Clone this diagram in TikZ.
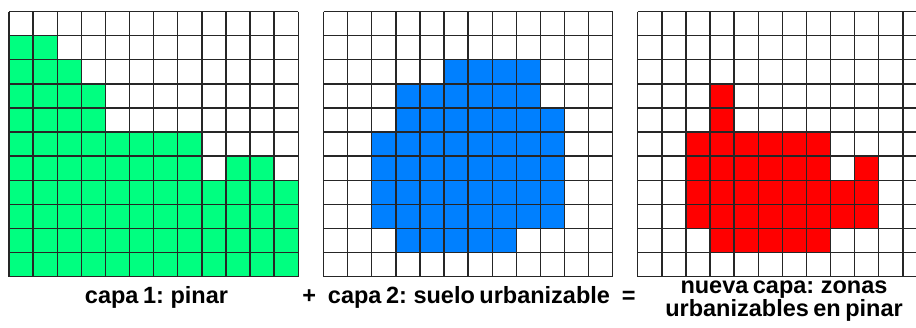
\documentclass[tikz,border=0pt]{standalone}
\usepackage{fontspec}
\setmainfont{Liberation Sans}
\definecolor{pinargreen}{HTML}{00FF80}
\definecolor{urbanblue}{HTML}{0080FF}
\definecolor{overlapred}{HTML}{FF0000}
\newcommand{\cw}{24.1}
\newcommand{\labelfont}{\bfseries\fontsize{23.5}{18}\selectfont\spaceskip 0.19em\relax}

\begin{document}
\begin{tikzpicture}[
  x=1pt, y=-1pt,
  every node/.style={font=\labelfont, inner sep=0pt},
  gridline/.style={draw=black!85, line width=1.4pt},
  cellfill/.style={fill=#1, draw=none}
]

\clip (0,0) rectangle (916,327);
\fill[white] (0,0) rectangle (916,327);

% ---------- Layer 1: pine forest ----------
\begin{scope}[shift={(9,11.5)}]
  \foreach \r/\a/\b in {1/0/1, 2/0/2, 3/0/3, 4/0/3, 5/0/7, 6/0/7, 6/9/10,
                        7/0/11, 8/0/11, 9/0/11, 10/0/11}
    \fill[cellfill=pinargreen] (\a*\cw,\r*\cw) rectangle ({(\b+1)*\cw},{(\r+1)*\cw});
  \foreach \c in {0,...,12}
    \draw[gridline] (\c*\cw,0) -- (\c*\cw,11*\cw);
  \foreach \r in {0,...,11}
    \draw[gridline] (0,\r*\cw) -- (12*\cw,\r*\cw);
\end{scope}

% ---------- Layer 2: building land ----------
\begin{scope}[shift={(323.5,11.5)}]
  \foreach \r/\a/\b in {2/5/8, 3/3/8, 4/3/9, 5/2/9, 6/2/9, 7/2/9, 8/2/9, 9/3/7}
    \fill[cellfill=urbanblue] (\a*\cw,\r*\cw) rectangle ({(\b+1)*\cw},{(\r+1)*\cw});
  \foreach \c in {0,...,12}
    \draw[gridline] (\c*\cw,0) -- (\c*\cw,11*\cw);
  \foreach \r in {0,...,11}
    \draw[gridline] (0,\r*\cw) -- (12*\cw,\r*\cw);
\end{scope}

% ---------- New layer: overlap ----------
\begin{scope}[shift={(637.7,11.5)}]
  \foreach \r/\a/\b in {3/3/3, 4/3/3, 5/2/7, 6/2/7, 6/9/9, 7/2/9, 8/2/9, 9/3/7}
    \fill[cellfill=overlapred] (\a*\cw,\r*\cw) rectangle ({(\b+1)*\cw},{(\r+1)*\cw});
  \foreach \c in {0,...,12}
    \draw[gridline] (\c*\cw,0) -- (\c*\cw,11*\cw);
  \foreach \r in {0,...,11}
    \draw[gridline] (0,\r*\cw) -- (12*\cw,\r*\cw);
\end{scope}

% ---------- Labels ----------
\node[anchor=base] (label1) at (156.5,303) {capa 1: pinar};
\node[anchor=base] (label2) at (469,303.5) {+\hspace{12pt}capa 2: suelo urbanizable\hspace{12pt}=};
\node[anchor=base, align=center] (label3) at (784,316.5) {nueva capa: zonas\\urbanizables en pinar};

\end{tikzpicture}
\end{document}
